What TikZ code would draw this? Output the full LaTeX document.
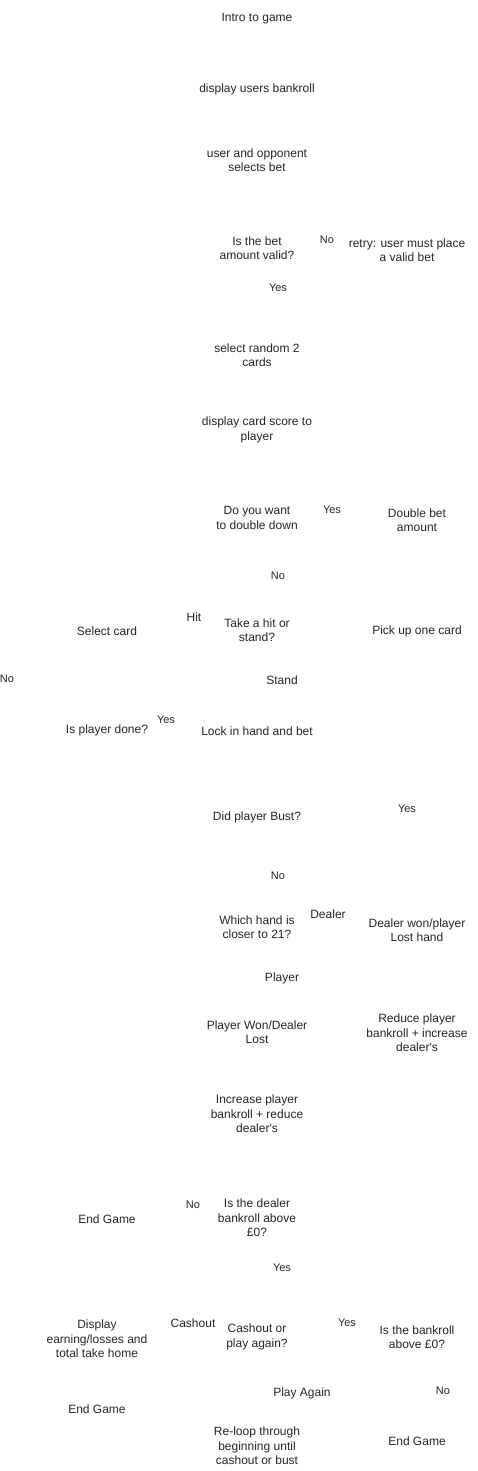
\documentclass[tikz,border=0pt]{standalone}
\usepackage{fontspec}
\setmainfont{Liberation Sans}
\usetikzlibrary{positioning}
\tikzset{%
  stepnode/.style={inner sep=0pt, align=center, font=\fontsize{12}{14.5}\selectfont, text=black!85},
  edgetext/.style={inner sep=0pt, align=center, font=\fontsize{11}{13}\selectfont, text=black!85},
  edgeword/.style={edgetext, font=\fontsize{12}{14}\selectfont},
}
\begin{document}
\begin{tikzpicture}[x=1pt,y=-1pt]
    \useasboundingbox[fill=white] (0,0) rectangle (478,1471);
    %Nodes
    \node[stepnode] (intro) at (257,19) {Intro to game};
    \node[stepnode] (bankroll) at (257,89) {display users bankroll};
    \node[stepnode] (selectbet) at (257,160) {user and opponent\\selects bet};
    \node[stepnode] (validbet) at (257,248) {Is the bet\\amount valid?};
    \node[stepnode] (retry) at (407,250) {retry: user must place\\a valid bet};
    \node[stepnode] (randomcards) at (257,355) {select random 2\\cards};
    \node[stepnode] (cardscore) at (257,430) {display card score to\\player};
    \node[stepnode] (doubledown) at (257,518) {Do you want\\to double down};
    \node[stepnode] (doublebet) at (417,520) {Double bet\\amount};
    \node[stepnode] (hitstand) at (257,630) {Take a hit or\\stand?};
    \node[stepnode] (selectcard) at (107,631) {Select card};
    \node[stepnode] (pickup) at (417,631) {Pick up one card};
    \node[stepnode] (playerdone) at (107,730) {Is player done?};
    \node[stepnode] (lockin) at (257,731) {Lock in hand and bet};
    \node[stepnode] (bust) at (257,817) {Did player Bust?};
    \node[stepnode] (closer) at (257,927) {Which hand is\\closer to 21?};
    \node[stepnode] (dealerwon) at (417,930) {Dealer won/player\\Lost hand};
    \node[stepnode] (playerwon) at (257,1032) {Player Won/Dealer\\Lost};
    \node[stepnode] (reduceplayer) at (417,1033) {Reduce player\\bankroll + increase\\dealer\textquotesingle s};
    \node[stepnode] (increaseplayer) at (257,1114) {Increase player\\bankroll + reduce\\dealer\textquotesingle s};
    \node[stepnode] (dealerabove) at (257,1218) {Is the dealer\\bankroll above\\£0?};
    \node[stepnode] (endgame1) at (107,1219) {End Game};
    \node[stepnode] (cashout) at (257,1337) {Cashout or\\play again?};
    \node[stepnode] (earnings) at (97,1339) {Display\\earning/losses and\\total take home};
    \node[stepnode] (bankabove) at (417,1337) {Is the bankroll\\above £0?};
    \node[stepnode] (endgame2) at (97,1409) {End Game};
    \node[stepnode] (reloop) at (257,1446) {Re-loop through\\beginning until\\cashout or bust};
    \node[stepnode] (endgame3) at (417,1441) {End Game};

    %Labels
    \node[edgetext] (nobet) at (327,240) {No};
    \node[edgetext] (yesbet) at (278,288) {Yes};
    \node[edgetext] (yesdouble) at (332,510) {Yes};
    \node[edgetext] (nodouble) at (278,576) {No};
    \node[edgeword] (hit) at (194,617) {Hit};
    \node[edgetext] (nodone) at (7,679) {No};
    \node[edgeword] (stand) at (282,680) {Stand};
    \node[edgetext] (yesdone) at (166,720) {Yes};
    \node[edgetext] (yesbust) at (407,809) {Yes};
    \node[edgetext] (nobust) at (278,876) {No};
    \node[edgeword] (dealer) at (328,914) {Dealer};
    \node[edgeword] (player) at (282,978) {Player};
    \node[edgetext] (nodealer) at (193,1205) {No};
    \node[edgetext] (yesdealer) at (282,1268) {Yes};
    \node[edgeword] (cash) at (193,1323) {Cashout};
    \node[edgetext] (yesbank) at (347,1323) {Yes};
    \node[edgeword] (again) at (302,1393) {Play Again};
    \node[edgetext] (nobank) at (443,1391) {No};
\end{tikzpicture}
\end{document}
